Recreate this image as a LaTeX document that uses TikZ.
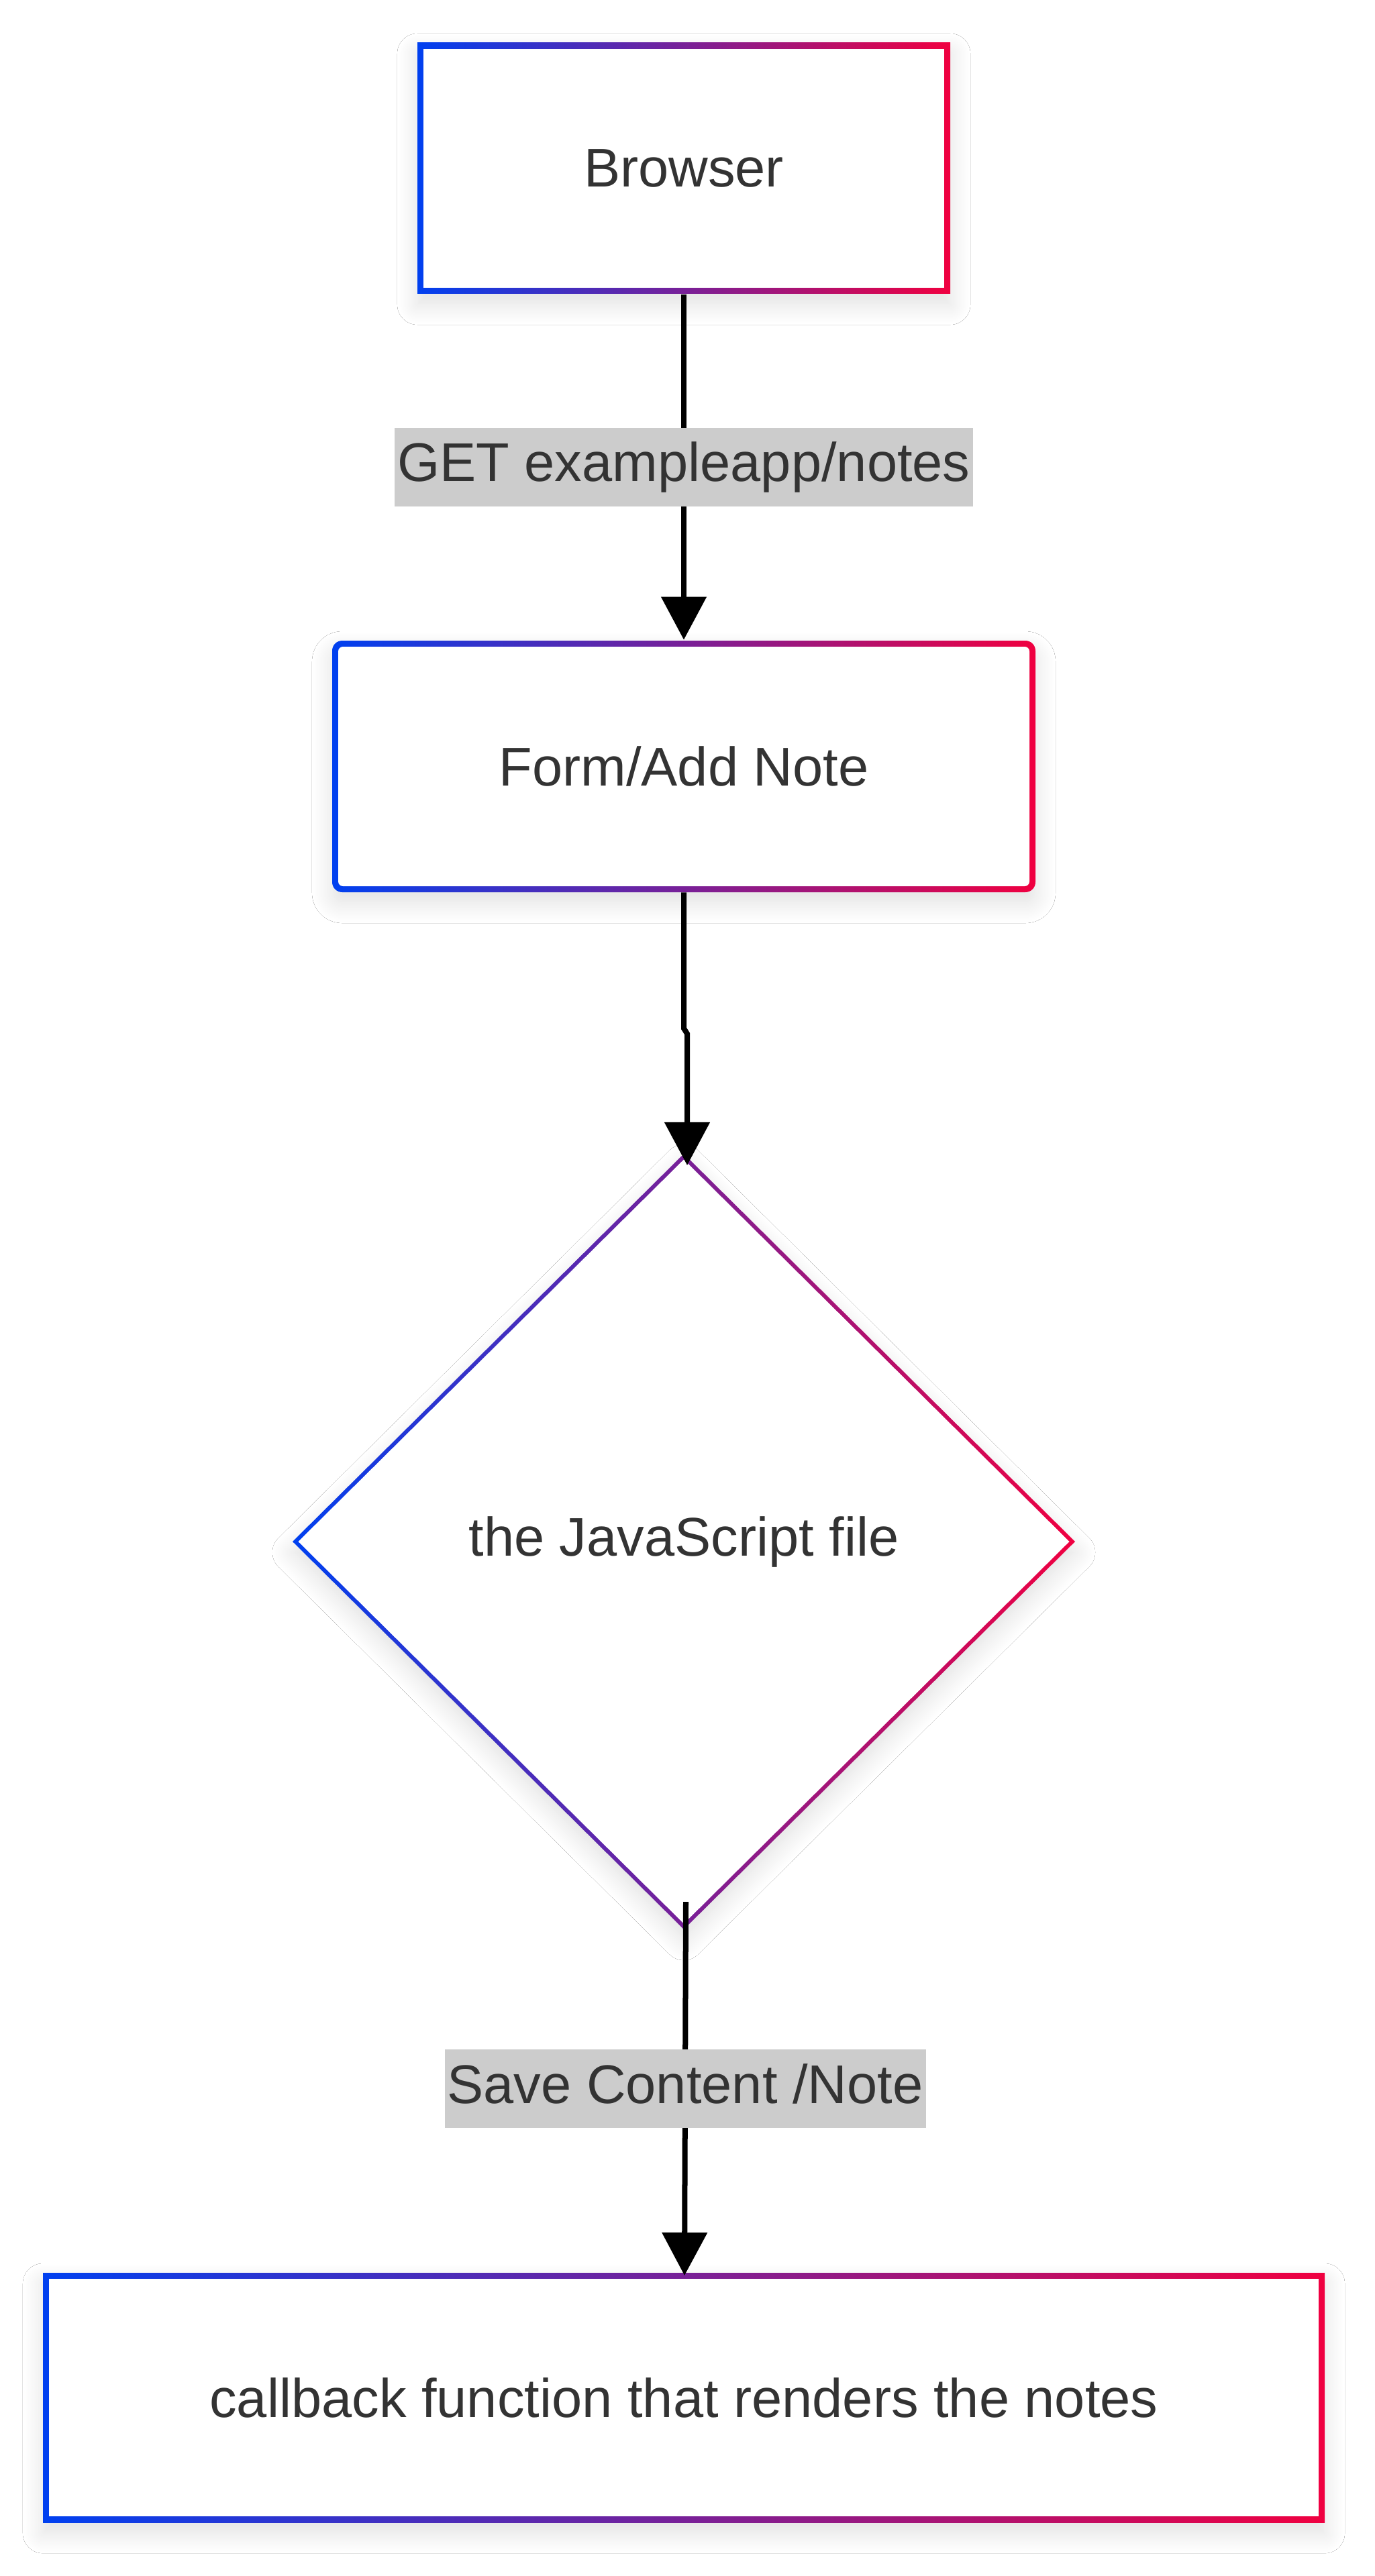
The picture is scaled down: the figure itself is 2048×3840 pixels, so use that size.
\documentclass[tikz,border=0pt]{standalone}
\usepackage{fontspec}
\setmainfont{Liberation Sans}
\usetikzlibrary{arrows.meta,shapes.geometric,shadows.blur}
\definecolor{gblue}{RGB}{0,64,240}
\definecolor{gred}{RGB}{240,0,64}
\definecolor{txtc}{HTML}{333333}
\definecolor{lblgray}{HTML}{CCCCCC}
\tikzset{
  gradfill/.style={left color=gblue,right color=gred},
  softshadow/.style={blur shadow={shadow blur steps=16,shadow xshift=0cm,shadow yshift=-0.16cm,shadow blur radius=0.3cm,shadow opacity=12}},
  txt/.style={font=\fontsize{23.1}{27}\selectfont,text=txtc,inner sep=0pt},
  lbl/.style={font=\fontsize{23.1}{27}\selectfont,text=txtc,fill=lblgray,inner xsep=0.04cm,inner ysep=0.2cm,text height=0.6cm,text depth=0.17cm},
  edge/.style={line width=0.08cm,draw=black,-{Triangle[width=0.66cm,length=0.64cm]}}
}
\begin{document}
\begin{tikzpicture}[x=0.01cm,y=-0.01cm]
\useasboundingbox[fill=white] (0,0) rectangle (2048,3840);
% Browser box
\shade[gradfill,softshadow] (622,64) rectangle (1416,438);
\fill[white] (631,73) rectangle (1407,429);
% Form box
\shade[gradfill,softshadow,rounded corners=0.15cm] (495,955) rectangle (1543,1330);
\fill[white,rounded corners=0.07cm] (504,964) rectangle (1534,1321);
% Diamond
\shade[gradfill,softshadow] (436,2298) -- (1019,1720) -- (1602,2298) -- (1019,2876) -- cycle;
\fill[white] (444.5,2298) -- (1019,1728.5) -- (1593.5,2298) -- (1019,2867.5) -- cycle;
% Bottom box
\shade[gradfill,softshadow] (64,3388) rectangle (1974,3760);
\fill[white] (73,3397) rectangle (1965,3751);
% Nodes (text)
\node[txt,minimum width=7.94cm,minimum height=3.74cm] (br) at (1019,251) {Browser};
\node[txt,minimum width=10.48cm,minimum height=3.75cm] (form) at (1019,1142) {Form/Add Note};
\node[txt,shape=diamond,minimum width=11.66cm,minimum height=11.56cm] (js) at (1019,2298) {the JavaScript file};
\node[txt,minimum width=19.1cm,minimum height=3.72cm] (cb) at (1019,3574) {callback function that renders the notes};
% Connector coordinates
\coordinate (j1) at (1019,1533);
\coordinate (j2) at (1024,1541);
\coordinate (jsin) at (1024,1737);
\coordinate (jsout) at (1022,2835);
\coordinate (cbin) at (1020,3392);
% Connectors
\draw[edge] (br.south) -- node[lbl] (l1) {GET exampleapp/notes} (form.north);
\draw[edge] (form.south) -- (j1) -- (j2) -- (jsin);
\draw[edge] (jsout) -- node[lbl] (l2) {Save Content /Note} (cbin);
\end{tikzpicture}
\end{document}
